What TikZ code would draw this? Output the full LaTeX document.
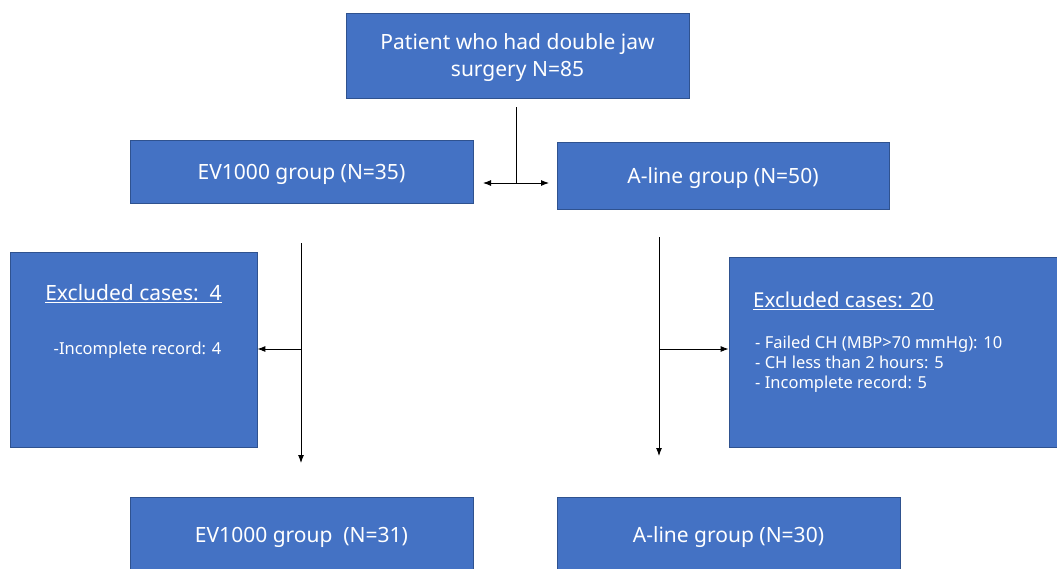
\documentclass[tikz,border=0pt]{standalone}
\usepackage{fontspec}
\setmainfont{Noto Sans}
\usetikzlibrary{arrows.meta}
\definecolor{boxblue}{HTML}{4472C4}
\definecolor{boxedge}{HTML}{2F528F}
\begin{document}
\begin{tikzpicture}[x=1pt,y=-1pt]

    \tikzset{
      box/.style={
        draw=boxedge,
        fill=boxblue,
        line width=0.8pt,
        inner sep=0pt,
        text=white,
        font=\fontsize{21}{27}\selectfont,
        align=center,
      },
      oneline/.style={
        text height=20pt,
        text depth=5pt,
      },
      info/.style={
        text=white,
        inner sep=0pt,
        font=\fontsize{16.5}{20}\selectfont,
        align=left,
      },
      link/.style={
        draw=black,
        line width=0.9pt,
        -{Latex[length=8pt,width=6pt]},
      },
    }
    \useasboundingbox (0,0) rectangle (1057,568);
    \clip (0,0) rectangle (1057,568);

	\node[box,minimum width=343,minimum height=85,text depth=0pt] (patient) at (517.5,55.5) {Patient who had double jaw\\surgery N=85};
	\node[box,oneline,minimum width=343,minimum height=63] (evfirst) at (301.5,171.5) {EV1000 group (N=35)};
	\node[box,oneline,minimum width=332,minimum height=67] (alfirst) at (723,175.5) {A-line group (N=50)};
	\node[box,minimum width=247,minimum height=195] (exleft) at (133.5,349.5) {};
	\node[box,minimum width=340,minimum height=190] (exright) at (899,352) {};
	\node[box,oneline,minimum width=343,minimum height=76] (evlast) at (301.5,535) {EV1000 group~~(N=31)};
	\node[box,oneline,minimum width=343,minimum height=76] (allast) at (728.5,535) {A-line group (N=30)};

	\node[info,font=\fontsize{21}{24}\selectfont] (exlefttitle) at (133.5,294) {\underline{Excluded cases:~~4}};
	\node[info] (exleftlist) at (137.5,350) {-Incomplete record: 4};
	\node[info,font=\fontsize{20.5}{24}\selectfont,anchor=west] (exrighttitle) at (753,301) {\underline{Excluded cases: 20}};
	\node[info,anchor=north west] (exrightlist) at (755,336) {- Failed CH (MBP>70 mmHg): 10\\- CH less than 2 hours: 5\\- Incomplete record: 5};

	\coordinate (splittop) at (516,107);
	\coordinate (split) at (516,183);
	\coordinate (lefttop) at (301,243);
	\coordinate (leftjoin) at (301,349);
	\coordinate (leftend) at (301,463);
	\coordinate (righttop) at (659,237);
	\coordinate (rightjoin) at (659,349);
	\coordinate (rightend) at (659,456);

	\draw[line width=0.9pt] (splittop)--(split);
	\draw[link] (split)--(483,183);
	\draw[link] (split)--(549,183);
	\draw[link] (lefttop)--(leftend);
	\draw[link] (leftjoin)--(exleft.east |- leftjoin);
	\draw[link] (righttop)--(rightend);
	\draw[link] (rightjoin)--(exright.west |- rightjoin);

\end{tikzpicture}
\end{document}
